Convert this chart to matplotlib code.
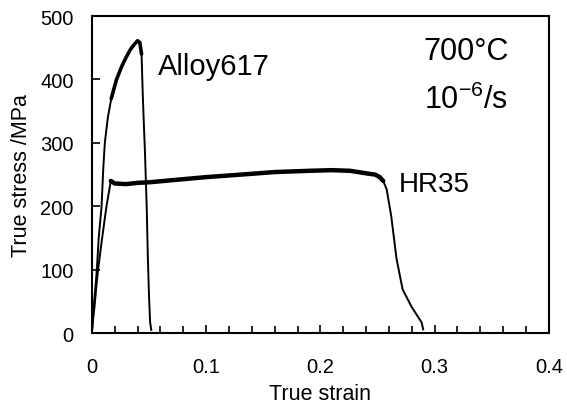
import matplotlib
matplotlib.use('Agg')
from matplotlib import pyplot as plt

plt.rcParams['font.family'] = ['Liberation Sans', 'Noto Sans CJK JP', 'DejaVu Sans']
plt.rcParams['mathtext.fontset'] = 'custom'
plt.rcParams['mathtext.rm'] = 'Liberation Sans'
plt.rcParams['mathtext.it'] = 'Liberation Sans'
plt.rcParams['mathtext.sf'] = 'Liberation Sans'

# Alloy617 curve
a617_strain = [0.0, 0.001, 0.002, 0.0035, 0.0044, 0.006, 0.0085, 0.010, 0.0114, 0.014,
               0.017, 0.0216, 0.026, 0.030, 0.034, 0.037, 0.040, 0.042, 0.0435, 0.0445,
               0.0455, 0.0464, 0.048, 0.049, 0.050, 0.051, 0.052]
a617_stress = [0, 25, 50, 80, 101, 150, 200, 260, 301, 340,
               370, 400, 420, 435, 448, 455, 461, 458, 440, 380,
               330, 290, 200, 120, 60, 17, 5]

# HR35 curve
hr35_strain = [0.0, 0.001, 0.0025, 0.004, 0.0055, 0.009, 0.0128, 0.0166, 0.020, 0.030,
               0.040, 0.051, 0.075, 0.100, 0.138, 0.160, 0.191, 0.210, 0.226, 0.240,
               0.248, 0.252, 0.255, 0.258, 0.262, 0.2667, 0.272, 0.280, 0.2886, 0.290]
hr35_stress = [0, 20, 45, 75, 101, 150, 200, 240, 236, 235,
               237, 238, 242, 246, 251, 254, 256, 257, 256, 252,
               250, 246, 240, 227, 185, 117, 69, 41, 17, 6]

fig = plt.figure(figsize=(5.67, 4.06), dpi=100)
ax = fig.add_axes([0.162, 0.177, 0.806, 0.781])

ax.plot(a617_strain, a617_stress, color='black', lw=1.4)
ax.plot(a617_strain[10:19], a617_stress[10:19], color='black', lw=2.6,
        solid_capstyle='round')
ax.plot(hr35_strain, hr35_stress, color='black', lw=1.4)
ax.plot(hr35_strain[7:23], hr35_stress[7:23], color='black', lw=3.2,
        solid_capstyle='round')

ax.set_xlim(0, 0.4)
ax.set_ylim(0, 500)
ax.set_xticks([0, 0.1, 0.2, 0.3, 0.4])
ax.set_xticklabels(['0', '0.1', '0.2', '0.3', '0.4'])
ax.set_xticks([i * 0.02 for i in range(21)], minor=True)
ax.set_yticks([0, 100, 200, 300, 400, 500])
ax.tick_params(direction='in', labelsize=14.5, length=6, width=1.2)
ax.tick_params(axis='x', pad=17)
ax.tick_params(axis='y', pad=13)
ax.tick_params(which='minor', direction='in', length=5, width=1.2)
for s in ax.spines.values():
    s.set_linewidth(1.5)

ax.set_xlabel('True strain', fontsize=15.5, labelpad=5)
ax.set_ylabel('True stress /MPa', fontsize=15.5, labelpad=6)

ax.text(0.058, 421, 'Alloy617', fontsize=21, va='center')
ax.text(0.269, 235, 'HR35', fontsize=20, va='center')
ax.text(0.2906, 445, '700°C', fontsize=22, va='center')
ax.text(0.2906, 369, r'10$^{-6}$/s', fontsize=22, va='center')

plt.savefig('out.png', dpi=100)
